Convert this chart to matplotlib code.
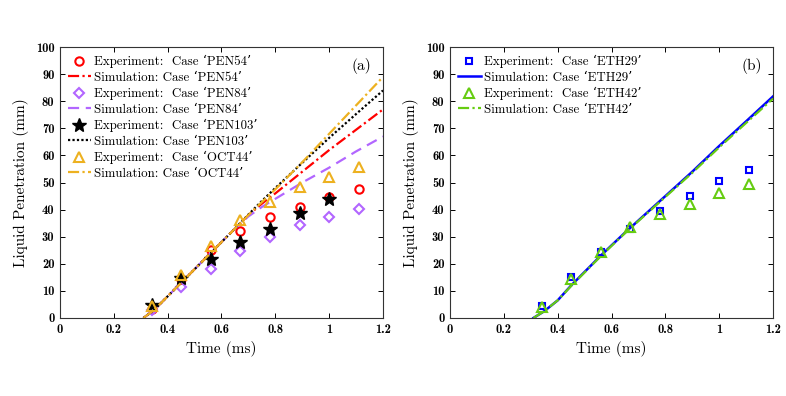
import matplotlib
matplotlib.use("Agg")
import matplotlib.pyplot as plt

plt.rcParams["font.family"] = ["cmr10", "DejaVu Serif"]
plt.rcParams["axes.formatter.use_mathtext"] = True
plt.rcParams["mathtext.fontset"] = "cm"

# ─── Data: measured points (same time stamps for every case) ──────────────────
t_exp = [0.34, 0.45, 0.56, 0.67, 0.78, 0.89, 1.00, 1.11]

pen54_exp = [3.5, 14.5, 25.0, 32.2, 37.2, 41.0, 44.8, 47.6]
pen84_exp = [3.0, 11.6, 18.0, 24.8, 30.0, 34.5, 37.4, 40.1]
pen103_t = [0.34, 0.45, 0.56, 0.67, 0.78, 0.89, 1.00]
pen103_exp = [4.8, 14.9, 21.8, 27.9, 32.8, 38.8, 44.0]
oct44_exp = [4.6, 15.9, 26.6, 36.3, 43.0, 48.2, 52.2, 55.6]

eth29_exp = [4.5, 15.0, 24.5, 33.0, 39.5, 45.0, 50.5, 54.5]
eth42_exp = [4.0, 14.3, 24.3, 33.5, 38.5, 42.0, 46.0, 49.3]

# ─── Data: simulated penetration curves ───────────────────────────────────────
t_sim = [0.31, 0.35, 0.40, 0.45, 0.50, 0.56, 0.60, 0.65, 0.70,
         0.75, 0.80, 0.90, 1.00, 1.10, 1.20]

pen54_sim = [0, 3.0, 8.0, 13.0, 18.0, 24.0, 28.0, 33.0, 38.0,
             42.2, 46.0, 54.0, 62.0, 69.5, 77.0]
pen84_sim = [0, 3.0, 8.0, 13.0, 18.0, 24.0, 28.0, 33.0, 37.5,
             41.0, 44.0, 50.0, 55.5, 61.5, 67.0]
pen103_sim = [0, 3.0, 8.0, 13.0, 18.0, 24.0, 28.0, 33.0, 38.2,
              43.2, 48.0, 57.3, 66.5, 75.3, 84.0]
oct44_sim = [0, 3.0, 8.0, 13.0, 18.0, 24.0, 28.0, 33.0, 38.0,
             42.8, 47.5, 57.5, 68.0, 78.5, 89.0]

eth29_sim = [0, 2.5, 6.5, 12.0, 17.0, 23.0, 26.8, 31.5, 36.0,
             40.5, 45.0, 54.0, 63.5, 72.6, 81.8]
eth42_sim = [0, 2.5, 6.5, 11.8, 16.8, 22.8, 26.6, 31.3, 35.8,
             40.2, 44.7, 53.6, 63.0, 72.0, 81.0]

RED, PURPLE, ORANGE = "#ff0000", "#b266ff", "#edb120"
BLUE, GREEN = "#0000ff", "#66cc11"
DASHDOT = (0, (5, 1.5, 1, 1.5))

fig = plt.figure(figsize=(7.86, 3.96), dpi=100)
ax1 = fig.add_axes([0.0763, 0.197, 0.411, 0.684])
ax2 = fig.add_axes([0.5725, 0.197, 0.411, 0.684])

mk = dict(linestyle="none", markerfacecolor="none", markeredgewidth=1.5)

# ── Panel (a) ─────────────────────────────────────────────────────────────────
ax1.plot(t_exp, pen54_exp, marker="o", ms=6, color=RED, **mk,
         label="Experiment:  Case ‘PEN54’")
ax1.plot(t_sim, pen54_sim, color=RED, lw=1.6, linestyle=DASHDOT,
         label="Simulation: Case ‘PEN54’")
ax1.plot(t_exp, pen84_exp, marker="D", ms=5, color=PURPLE, **mk,
         label="Experiment:  Case ‘PEN84’")
ax1.plot(t_sim, pen84_sim, color=PURPLE, lw=1.6, linestyle=(0, (5, 3)),
         label="Simulation: Case ‘PEN84’")
ax1.plot(pen103_t, pen103_exp, marker="*", ms=10, color="black",
         linestyle="none", label="Experiment:  Case ‘PEN103’")
ax1.plot(t_sim, pen103_sim, color="black", lw=1.6, linestyle=(0, (1, 1)),
         label="Simulation: Case ‘PEN103’")
ax1.plot(t_exp, oct44_exp, marker="^", ms=7, color=ORANGE, **mk,
         label="Experiment:  Case ‘OCT44’")
ax1.plot(t_sim, oct44_sim, color=ORANGE, lw=1.6, linestyle=DASHDOT,
         label="Simulation: Case ‘OCT44’")
ax1.text(0.965, 0.93, "(a)", transform=ax1.transAxes, ha="right", va="center",
         fontsize=11)

# ── Panel (b) ─────────────────────────────────────────────────────────────────
ax2.plot(t_exp, eth29_exp, marker="s", ms=5, color=BLUE, **mk,
         label="Experiment:  Case ‘ETH29’")
ax2.plot(t_sim, eth29_sim, color=BLUE, lw=1.8, label="Simulation: Case ‘ETH29’")
ax2.plot(t_exp, eth42_exp, marker="^", ms=7, color=GREEN, **mk,
         label="Experiment:  Case ‘ETH42’")
ax2.plot(t_sim, eth42_sim, color=GREEN, lw=1.6, linestyle=DASHDOT,
         label="Simulation: Case ‘ETH42’")
ax2.text(0.965, 0.93, "(b)", transform=ax2.transAxes, ha="right", va="center",
         fontsize=11)

for ax in (ax1, ax2):
    ax.set_xlim(0, 1.2)
    ax.set_ylim(0, 100)
    ax.set_xticks([0, 0.2, 0.4, 0.6, 0.8, 1.0, 1.2])
    ax.set_xticklabels(["0", "0.2", "0.4", "0.6", "0.8", "1", "1.2"])
    ax.set_yticks(range(0, 101, 10))
    ax.set_yticklabels([str(v) for v in range(0, 101, 10)])
    ax.tick_params(direction="in", top=True, right=True, length=3.5,
                   width=0.7, labelsize=9, pad=4)
    for lab in ax.get_xticklabels() + ax.get_yticklabels():
        lab.set_fontfamily("cmb10")
    for sp in ax.spines.values():
        sp.set_linewidth(0.8)
        sp.set_color("#333333")
    ax.set_xlabel("Time (ms)", fontsize=11, labelpad=4)
    ax.set_ylabel("Liquid Penetration (mm)", fontsize=11, labelpad=5)
    ax.legend(loc="upper left", frameon=False, fontsize=9.3, handlelength=1.8,
              handletextpad=0.2, labelspacing=0.26, borderaxespad=0.4,
              borderpad=0.2)

fig.savefig("out.png", dpi=100)
